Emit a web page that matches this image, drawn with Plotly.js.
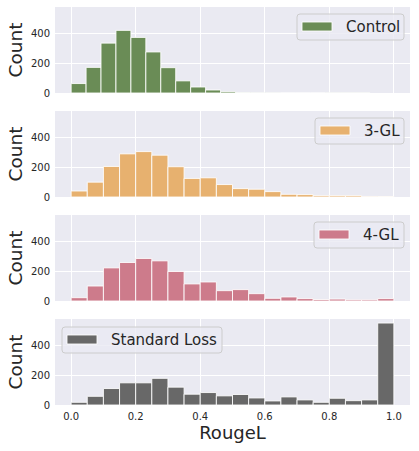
<!DOCTYPE html>
<html>
<head>
<meta charset="utf-8">
<script src="https://cdn.plot.ly/plotly-3.0.1.min.js"></script>
<style>
    html, body {
        margin: 0;
        padding: 0;
        background: #ffffff;
    }

    #chart {
        width: 419px;
        height: 451px;
    }
</style>
</head>
<body>
<div id="chart"></div>
<script>
/******************************************************************************
 * RougeL histograms, one panel per training setup
 ******************************************************************************/

const BIN_COUNT = 20;

// Control scores stop short of 1.0, so its 20 bins are a little narrower
const controlMaxScore = 0.926;
const otherMaxScore = 1.0;

const seriesNames = ["Control", "3-GL", "4-GL", "Standard Loss"];

const controlCounts = [63, 171, 333, 418, 371, 274, 169, 81, 40, 20, 9, 3, 1, 1, 0, 0, 0, 1, 1, 1];
const gl3Counts = [40, 99, 204, 288, 303, 279, 202, 124, 128, 83, 56, 52, 36, 18, 16, 9, 9, 9, 4, 3];
const gl4Counts = [22, 100, 221, 257, 284, 268, 197, 114, 127, 69, 76, 49, 18, 27, 16, 10, 13, 8, 8, 16];
const standardCounts = [18, 58, 110, 148, 148, 178, 119, 72, 83, 61, 70, 47, 27, 54, 34, 18, 45, 29, 34, 547];

const xTickValues = [0, 0.2, 0.4, 0.6, 0.8, 1.0];
const yTickValues = [0, 200, 400];

const xLabel = "RougeL";
const yLabel = "Count";

// figure geometry, in pixels
const W = 419;
const H = 451;
const PLOT_LEFT = 55;
const PLOT_RIGHT = 410;

const panels = [
    { counts: controlCounts, max: controlMaxScore, color: "#6a8c56", top: 7, bottom: 93, legend: { x0: 297, x1: 404, y0: 14 } },
    { counts: gl3Counts, max: otherMaxScore, color: "#e7b16f", top: 111, bottom: 197, legend: { x0: 315, x1: 404, y0: 118 } },
    { counts: gl4Counts, max: otherMaxScore, color: "#cd7b8b", top: 215, bottom: 301, legend: { x0: 314, x1: 404, y0: 222 } },
    { counts: standardCounts, max: otherMaxScore, color: "#686868", top: 319, bottom: 405, legend: { x0: 62, x1: 222, y0: 327 } }
];

const px = x => x / W;
const py = y => 1 - y / H;

function roundedBox(x0, y0, x1, y1, r) {
    const rx = r / W;
    const ry = r / H;
    const a = px(x0), b = px(x1);
    const top = py(y0), bot = py(y1);

    return "M" + (a + rx) + "," + top
        + " L" + (b - rx) + "," + top
        + " Q" + b + "," + top + " " + b + "," + (top - ry)
        + " L" + b + "," + (bot + ry)
        + " Q" + b + "," + bot + " " + (b - rx) + "," + bot
        + " L" + (a + rx) + "," + bot
        + " Q" + a + "," + bot + " " + a + "," + (bot + ry)
        + " L" + a + "," + (top - ry)
        + " Q" + a + "," + top + " " + (a + rx) + "," + top + " Z";
}

const traces = [];
const shapes = [];
const annotations = [];

const layout = {
    width: W,
    height: H,
    paper_bgcolor: "#ffffff",
    plot_bgcolor: "#eaeaf2",
    margin: { l: 0, r: 0, t: 0, b: 0 },
    showlegend: false,
    bargap: 0,
    font: {
        family: "DejaVu Sans",
        color: "#262626",
        size: 10
    }
};

panels.forEach((panel, i) => {
    const n = i + 1;
    const suffix = n === 1 ? "" : String(n);
    const binWidth = panel.max / BIN_COUNT;
    const centers = panel.counts.map((_, k) => (k + 0.5) * binWidth);

    traces.push({
        type: "bar",
        name: seriesNames[i],
        x: centers,
        y: panel.counts,
        width: centers.map(() => binWidth),
        xaxis: "x" + suffix,
        yaxis: "y" + suffix,
        marker: {
            color: panel.color,
            line: {
                color: "rgba(255,255,255,0.85)",
                width: 1
            }
        },
        hoverinfo: "x+y"
    });

    const isBottom = n === panels.length;

    layout["xaxis" + suffix] = {
        domain: [px(PLOT_LEFT), px(PLOT_RIGHT)],
        anchor: "y" + suffix,
        range: [-0.05, 1.05],
        tickvals: xTickValues,
        tickformat: ".1f",
        showticklabels: isBottom,
        ticklabelstandoff: 4,
        ticks: "",
        showline: false,
        zeroline: false,
        gridcolor: "#ffffff",
        gridwidth: 1,
        tickfont: { size: 10, color: "#262626" },
        title: isBottom
            ? { text: xLabel, font: { size: 18, color: "#262626" }, standoff: 3 }
            : { text: "" }
    };

    layout["yaxis" + suffix] = {
        domain: [py(panel.bottom), py(panel.top)],
        anchor: "x" + suffix,
        range: [0, 574],
        tickvals: yTickValues,
        ticklabelstandoff: 4,
        ticks: "",
        showline: false,
        zeroline: false,
        gridcolor: "#ffffff",
        gridwidth: 1,
        tickfont: { size: 10, color: "#262626" },
        title: { text: yLabel, font: { size: 18.5, color: "#262626" }, standoff: 3 }
    };

    // legend box drawn by hand so the swatch can be a wide bar like the source
    const lg = panel.legend;
    shapes.push({
        type: "path",
        xref: "paper",
        yref: "paper",
        path: roundedBox(lg.x0, lg.y0, lg.x1, lg.y0 + 26, 3),
        fillcolor: "rgba(234,234,242,0.8)",
        line: { color: "#cccccc", width: 1 },
        layer: "above"
    });

    shapes.push({
        type: "rect",
        xref: "paper",
        yref: "paper",
        x0: px(lg.x0 + 5),
        x1: px(lg.x0 + 35),
        y0: py(lg.y0 + 8),
        y1: py(lg.y0 + 17),
        fillcolor: panel.color,
        line: { color: "rgba(255,255,255,0.85)", width: 1 },
        layer: "above"
    });

    annotations.push({
        xref: "paper",
        yref: "paper",
        x: px(lg.x0 + 47),
        y: py(lg.y0 + 13),
        xanchor: "left",
        yanchor: "middle",
        showarrow: false,
        text: seriesNames[i],
        font: { size: 15, color: "#262626" }
    });
});

layout.shapes = shapes;
layout.annotations = annotations;

Plotly.newPlot(
    "chart",
    traces,
    layout,
    {
        displayModeBar: false,
        staticPlot: true
    }
);
</script>
</body>
</html>
